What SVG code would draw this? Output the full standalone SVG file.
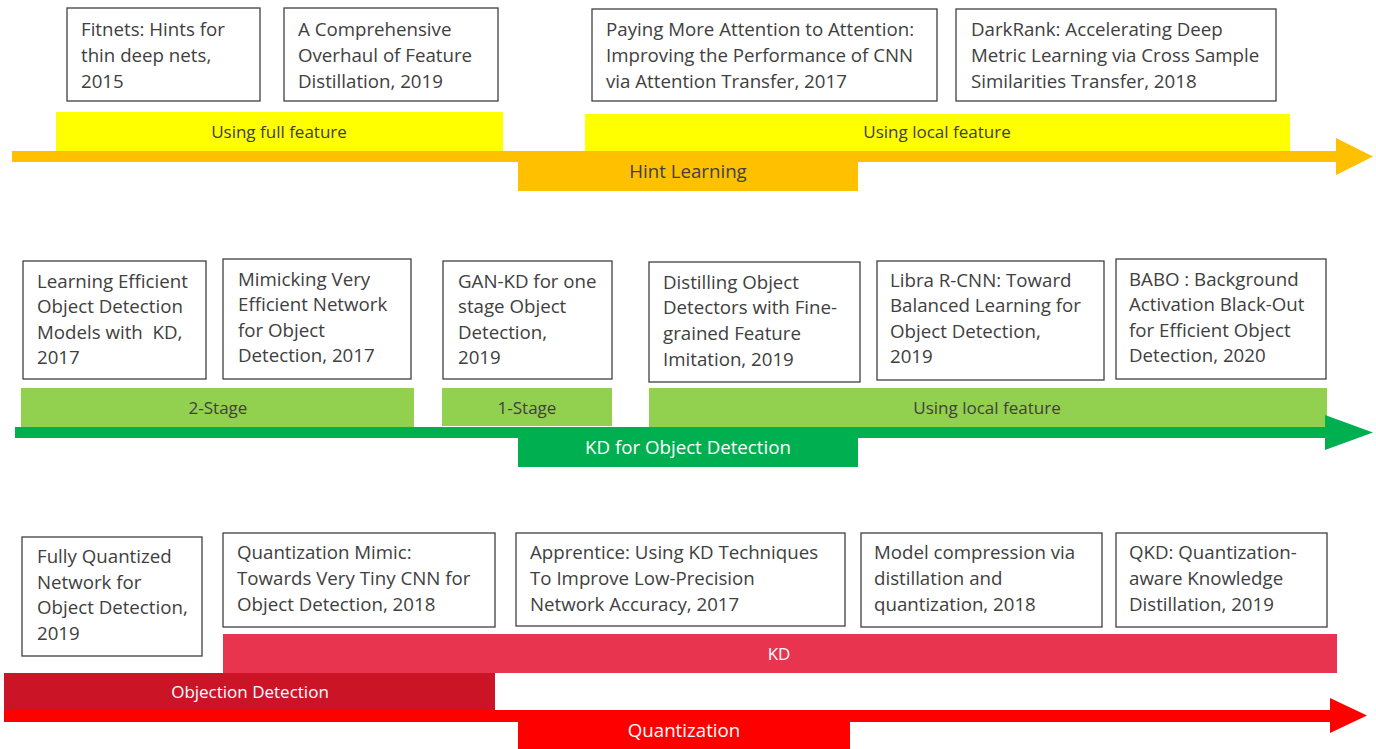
<svg xmlns="http://www.w3.org/2000/svg" width="1376" height="749" viewBox="0 0 1376 749">
<style>
.box{fill:#fff;stroke:#404040;stroke-width:1.3}
.bt{font-family:"Open Sans","Liberation Sans",sans-serif;font-size:18.7px;fill:#404040}
.lb{font-family:"Open Sans","Liberation Sans",sans-serif;font-size:17px;text-anchor:middle}
.al{font-family:"Open Sans","Liberation Sans",sans-serif;font-size:18.7px;text-anchor:middle}
.dark{fill:#404040}
.white{fill:#fff}
</style>
<rect width="1376" height="749" fill="#fff"/>

<!-- Row 1 -->
<g id="n-fitnets"><rect class="box" x="67" y="8" width="193" height="93"/>
<text class="bt"><tspan x="81" y="36">Fitnets: Hints for</tspan><tspan x="81" y="62">thin deep nets,</tspan><tspan x="81" y="88">2015</tspan></text></g>
<g id="n-overhaul"><rect class="box" x="284" y="8" width="214" height="93"/>
<text class="bt"><tspan x="298" y="36">A Comprehensive</tspan><tspan x="298" y="62">Overhaul of Feature</tspan><tspan x="298" y="88">Distillation, 2019</tspan></text></g>
<g id="n-attention"><rect class="box" x="592" y="9" width="345" height="92"/>
<text class="bt"><tspan x="606" y="36">Paying More Attention to Attention:</tspan><tspan x="606" y="62">Improving the Performance of CNN</tspan><tspan x="606" y="88">via Attention Transfer, 2017</tspan></text></g>
<g id="n-darkrank"><rect class="box" x="956" y="9" width="320" height="92"/>
<text class="bt"><tspan x="971" y="36">DarkRank: Accelerating Deep</tspan><tspan x="971" y="62">Metric Learning via Cross Sample</tspan><tspan x="971" y="88">Similarities Transfer, 2018</tspan></text></g>
<g id="n-fullfeature"><rect x="56" y="112" width="447" height="39" fill="#FFFF00"/>
<text class="lb dark" x="279" y="138">Using full feature</text></g>
<g id="n-localfeature1"><rect x="585" y="114" width="705" height="37" fill="#FFFF00"/>
<text class="lb dark" x="937" y="138">Using local feature</text></g>

<!-- Row 2 -->
<g id="n-lefod"><rect class="box" x="23" y="261" width="183" height="118"/>
<text class="bt"><tspan x="37" y="288">Learning Efficient</tspan><tspan x="37" y="313">Object Detection</tspan><tspan x="37" y="339">Models with&#160; KD,</tspan><tspan x="37" y="364">2017</tspan></text></g>
<g id="n-mimic"><rect class="box" x="223" y="259" width="188" height="120"/>
<text class="bt"><tspan x="238" y="286">Mimicking Very</tspan><tspan x="238" y="311">Efficient Network</tspan><tspan x="238" y="337">for Object</tspan><tspan x="238" y="362">Detection, 2017</tspan></text></g>
<g id="n-gankd"><rect class="box" x="443" y="261" width="169" height="118"/>
<text class="bt"><tspan x="458" y="288">GAN-KD for one</tspan><tspan x="458" y="313">stage Object</tspan><tspan x="458" y="339">Detection,</tspan><tspan x="458" y="364">2019</tspan></text></g>
<g id="n-finegrained"><rect class="box" x="649" y="262" width="211" height="120"/>
<text class="bt"><tspan x="663" y="289">Distilling Object</tspan><tspan x="663" y="314">Detectors with Fine-</tspan><tspan x="663" y="340">grained Feature</tspan><tspan x="663" y="366">Imitation, 2019</tspan></text></g>
<g id="n-libra"><rect class="box" x="877" y="261" width="227" height="119"/>
<text class="bt"><tspan x="890" y="287">Libra R-CNN: Toward</tspan><tspan x="890" y="312">Balanced Learning for</tspan><tspan x="890" y="338">Object Detection,</tspan><tspan x="890" y="363">2019</tspan></text></g>
<g id="n-babo"><rect class="box" x="1116" y="259" width="210" height="120"/>
<text class="bt"><tspan x="1129" y="286">BABO : Background</tspan><tspan x="1129" y="311">Activation Black-Out</tspan><tspan x="1129" y="337">for Efficient Object</tspan><tspan x="1129" y="362">Detection, 2020</tspan></text></g>
<g id="n-2stage"><rect x="21" y="388" width="393" height="39" fill="#92D050"/>
<text class="lb dark" x="218" y="414">2-Stage</text></g>
<g id="n-1stage"><rect x="442" y="388" width="170" height="38" fill="#92D050"/>
<text class="lb dark" x="527" y="414">1-Stage</text></g>
<g id="n-localfeature2"><rect x="649" y="388" width="678" height="39" fill="#92D050"/>
<text class="lb dark" x="987" y="414">Using local feature</text></g>

<!-- Row 3 -->
<g id="n-fqn"><rect class="box" x="22" y="537" width="180" height="119"/>
<text class="bt"><tspan x="37" y="563">Fully Quantized</tspan><tspan x="37" y="589">Network for</tspan><tspan x="37" y="614">Object Detection,</tspan><tspan x="37" y="640">2019</tspan></text></g>
<g id="n-qmimic"><rect class="box" x="223" y="533" width="272" height="94"/>
<text class="bt"><tspan x="237" y="559">Quantization Mimic:</tspan><tspan x="237" y="585">Towards Very Tiny CNN for</tspan><tspan x="237" y="611">Object Detection, 2018</tspan></text></g>
<g id="n-apprentice"><rect class="box" x="516" y="533" width="329" height="93"/>
<text class="bt"><tspan x="530" y="559">Apprentice: Using KD Techniques</tspan><tspan x="530" y="585">To Improve Low-Precision</tspan><tspan x="530" y="611">Network Accuracy, 2017</tspan></text></g>
<g id="n-modelcomp"><rect class="box" x="861" y="533" width="241" height="94"/>
<text class="bt"><tspan x="874" y="559">Model compression via</tspan><tspan x="874" y="585">distillation and</tspan><tspan x="874" y="611">quantization, 2018</tspan></text></g>
<g id="n-qkd"><rect class="box" x="1116" y="533" width="211" height="94"/>
<text class="bt"><tspan x="1129" y="559">QKD: Quantization-</tspan><tspan x="1129" y="585">aware Knowledge</tspan><tspan x="1129" y="611">Distillation, 2019</tspan></text></g>
<g id="n-kd"><rect x="223" y="634" width="1114" height="39" fill="#E9344F"/>
<text class="lb white" x="779" y="660">KD</text></g>
<g id="n-objdet"><rect x="4" y="673" width="491" height="37" fill="#CC1427"/>
<text class="lb white" x="250" y="698">Objection Detection</text></g>

<!-- Timeline arrows -->
<g id="connectors">
<g id="c-hint">
<polygon points="12,151 1336,151 1336,138 1373,156.5 1336,175 1336,162 12,162" fill="#FFC000"/>
<rect x="518" y="151" width="340" height="40" fill="#FFC000"/>
<text class="al dark" x="688" y="178">Hint Learning</text>
</g>
<g id="c-kdod">
<polygon points="15,427 1325,427 1325,415 1373,432.5 1325,450 1325,438 15,438" fill="#00B050"/>
<rect x="518" y="427" width="340" height="40" fill="#00B050"/>
<text class="al white" x="688" y="454">KD for Object Detection</text>
</g>
<g id="c-quant">
<polygon points="4,710 1330,710 1330,698 1367,715.5 1330,733 1330,722 4,722" fill="#FF0000"/>
<rect x="518" y="710" width="332" height="39" fill="#FF0000"/>
<text class="al white" x="684" y="737">Quantization</text>
</g>
</g>
</svg>
